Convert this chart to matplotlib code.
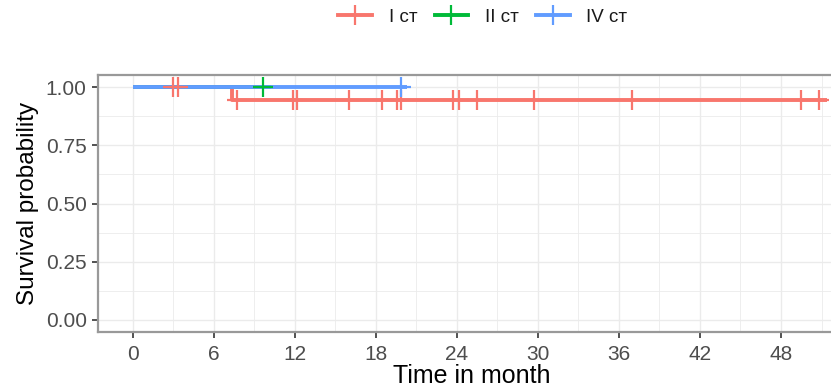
import matplotlib
matplotlib.use("Agg")
import matplotlib.pyplot as plt
import numpy as np
from matplotlib.lines import Line2D

plt.rcParams['font.family'] = ['Liberation Sans', 'DejaVu Sans']

# ---- data ----
group_labels = ["I ст", "II ст", "IV ст"]
group_colors = ["#F8766D", "#00BA38", "#619CFF"]

red_step_times = [0.0, 7.34, 51.4]
red_step_surv = [1.0, 0.944, 0.944]
red_censor_times = [3.03, 3.40, 7.76, 11.9, 12.2, 16.0, 18.5, 19.55, 19.9,
                    23.7, 24.2, 25.5, 29.7, 36.95, 49.5, 50.8]

green_step_times = [0.0, 10.27]
green_step_surv = [1.0, 1.0]
green_censor_times = [9.68]

blue_step_times = [0.0, 20.3]
blue_step_surv = [1.0, 1.0]
blue_censor_times = [19.85]

x_ticks = [0, 6, 12, 18, 24, 30, 36, 42, 48]
y_ticks = [0.0, 0.25, 0.5, 0.75, 1.0]
y_tick_labels = ["0.00", "0.25", "0.50", "0.75", "1.00"]

groups = [
    (red_step_times, red_step_surv, red_censor_times),
    (green_step_times, green_step_surv, green_censor_times),
    (blue_step_times, blue_step_surv, blue_censor_times),
]

# ---- figure ----
W, H = 831, 392
fig = plt.figure(figsize=(W / 100, H / 100), dpi=100)

xmax_data = max(max(g[0]) for g in groups)
xlim = (-0.05 * xmax_data, 1.05 * xmax_data)
ylim = (-0.05, 1.05)

px_per_month = 13.51
left_px = 132.5 + xlim[0] * px_per_month
width_px = (xlim[1] - xlim[0]) * px_per_month
top_px = 75.4
bottom_px = 331.6
ax = fig.add_axes([left_px / W, 1 - bottom_px / H, width_px / W, (bottom_px - top_px) / H])

ax.set_xlim(*xlim)
ax.set_ylim(*ylim)

# grid
for x in np.arange(-3, 60, 3):
    ax.axvline(x, color="#EBEBEB", lw=1.0 if x % 6 == 0 else 0.6, zorder=0)
for y in np.arange(0, 1.01, 0.125):
    ax.axhline(y, color="#EBEBEB", lw=1.0 if (y * 4) % 1 == 0 else 0.6, zorder=0)

# lines
for (t, s, c), col in zip(groups, group_colors):
    ax.step(t, s, where="post", color=col, lw=2.8, zorder=2, solid_capstyle="butt")

# censor marks
for (t, s, c), col in zip(groups, group_colors):
    idx = np.searchsorted(np.array(t), np.array(c), side="right") - 1
    cy = np.array(s)[idx]
    ax.plot(c, cy, linestyle="none", marker="+", markersize=14, markeredgewidth=1.6,
            color=col, zorder=3)

ax.set_xticks(x_ticks)
ax.set_xticklabels([str(v) for v in x_ticks])
ax.set_yticks(y_ticks)
ax.set_yticklabels(y_tick_labels)
ax.tick_params(axis="both", colors="#333333", labelcolor="#4D4D4D", labelsize=15,
               length=4, width=1.2)
ax.tick_params(axis="x", pad=6)
ax.tick_params(axis="y", pad=4)

for side in ["left", "top", "bottom"]:
    ax.spines[side].set_color("#999999")
    ax.spines[side].set_linewidth(1.6)
ax.spines["right"].set_visible(False)

ax.set_xlabel("Time in month", fontsize=18, color="black", labelpad=1)
ax.set_ylabel("Survival probability", fontsize=17.5, color="black", labelpad=5)
ax.xaxis.set_label_coords((132.5 + 25.1 * px_per_month - left_px) / width_px,
                          -(376 - bottom_px) / (bottom_px - top_px))
ax.xaxis.label.set_verticalalignment("center")

# legend
handles = [Line2D([0], [0], color=col, lw=2.8, marker="+", markersize=14,
                  markeredgewidth=1.6) for col in group_colors]
leg = fig.legend(handles, group_labels, loc="center", bbox_to_anchor=(483 / W, 1 - 17 / H),
                 ncol=3, frameon=False, fontsize=13.5, handlelength=1.8, columnspacing=0.9,
                 handletextpad=0.9)
for t in leg.get_texts():
    t.set_color("#1A1A1A")

fig.savefig("out.png", dpi=100)
